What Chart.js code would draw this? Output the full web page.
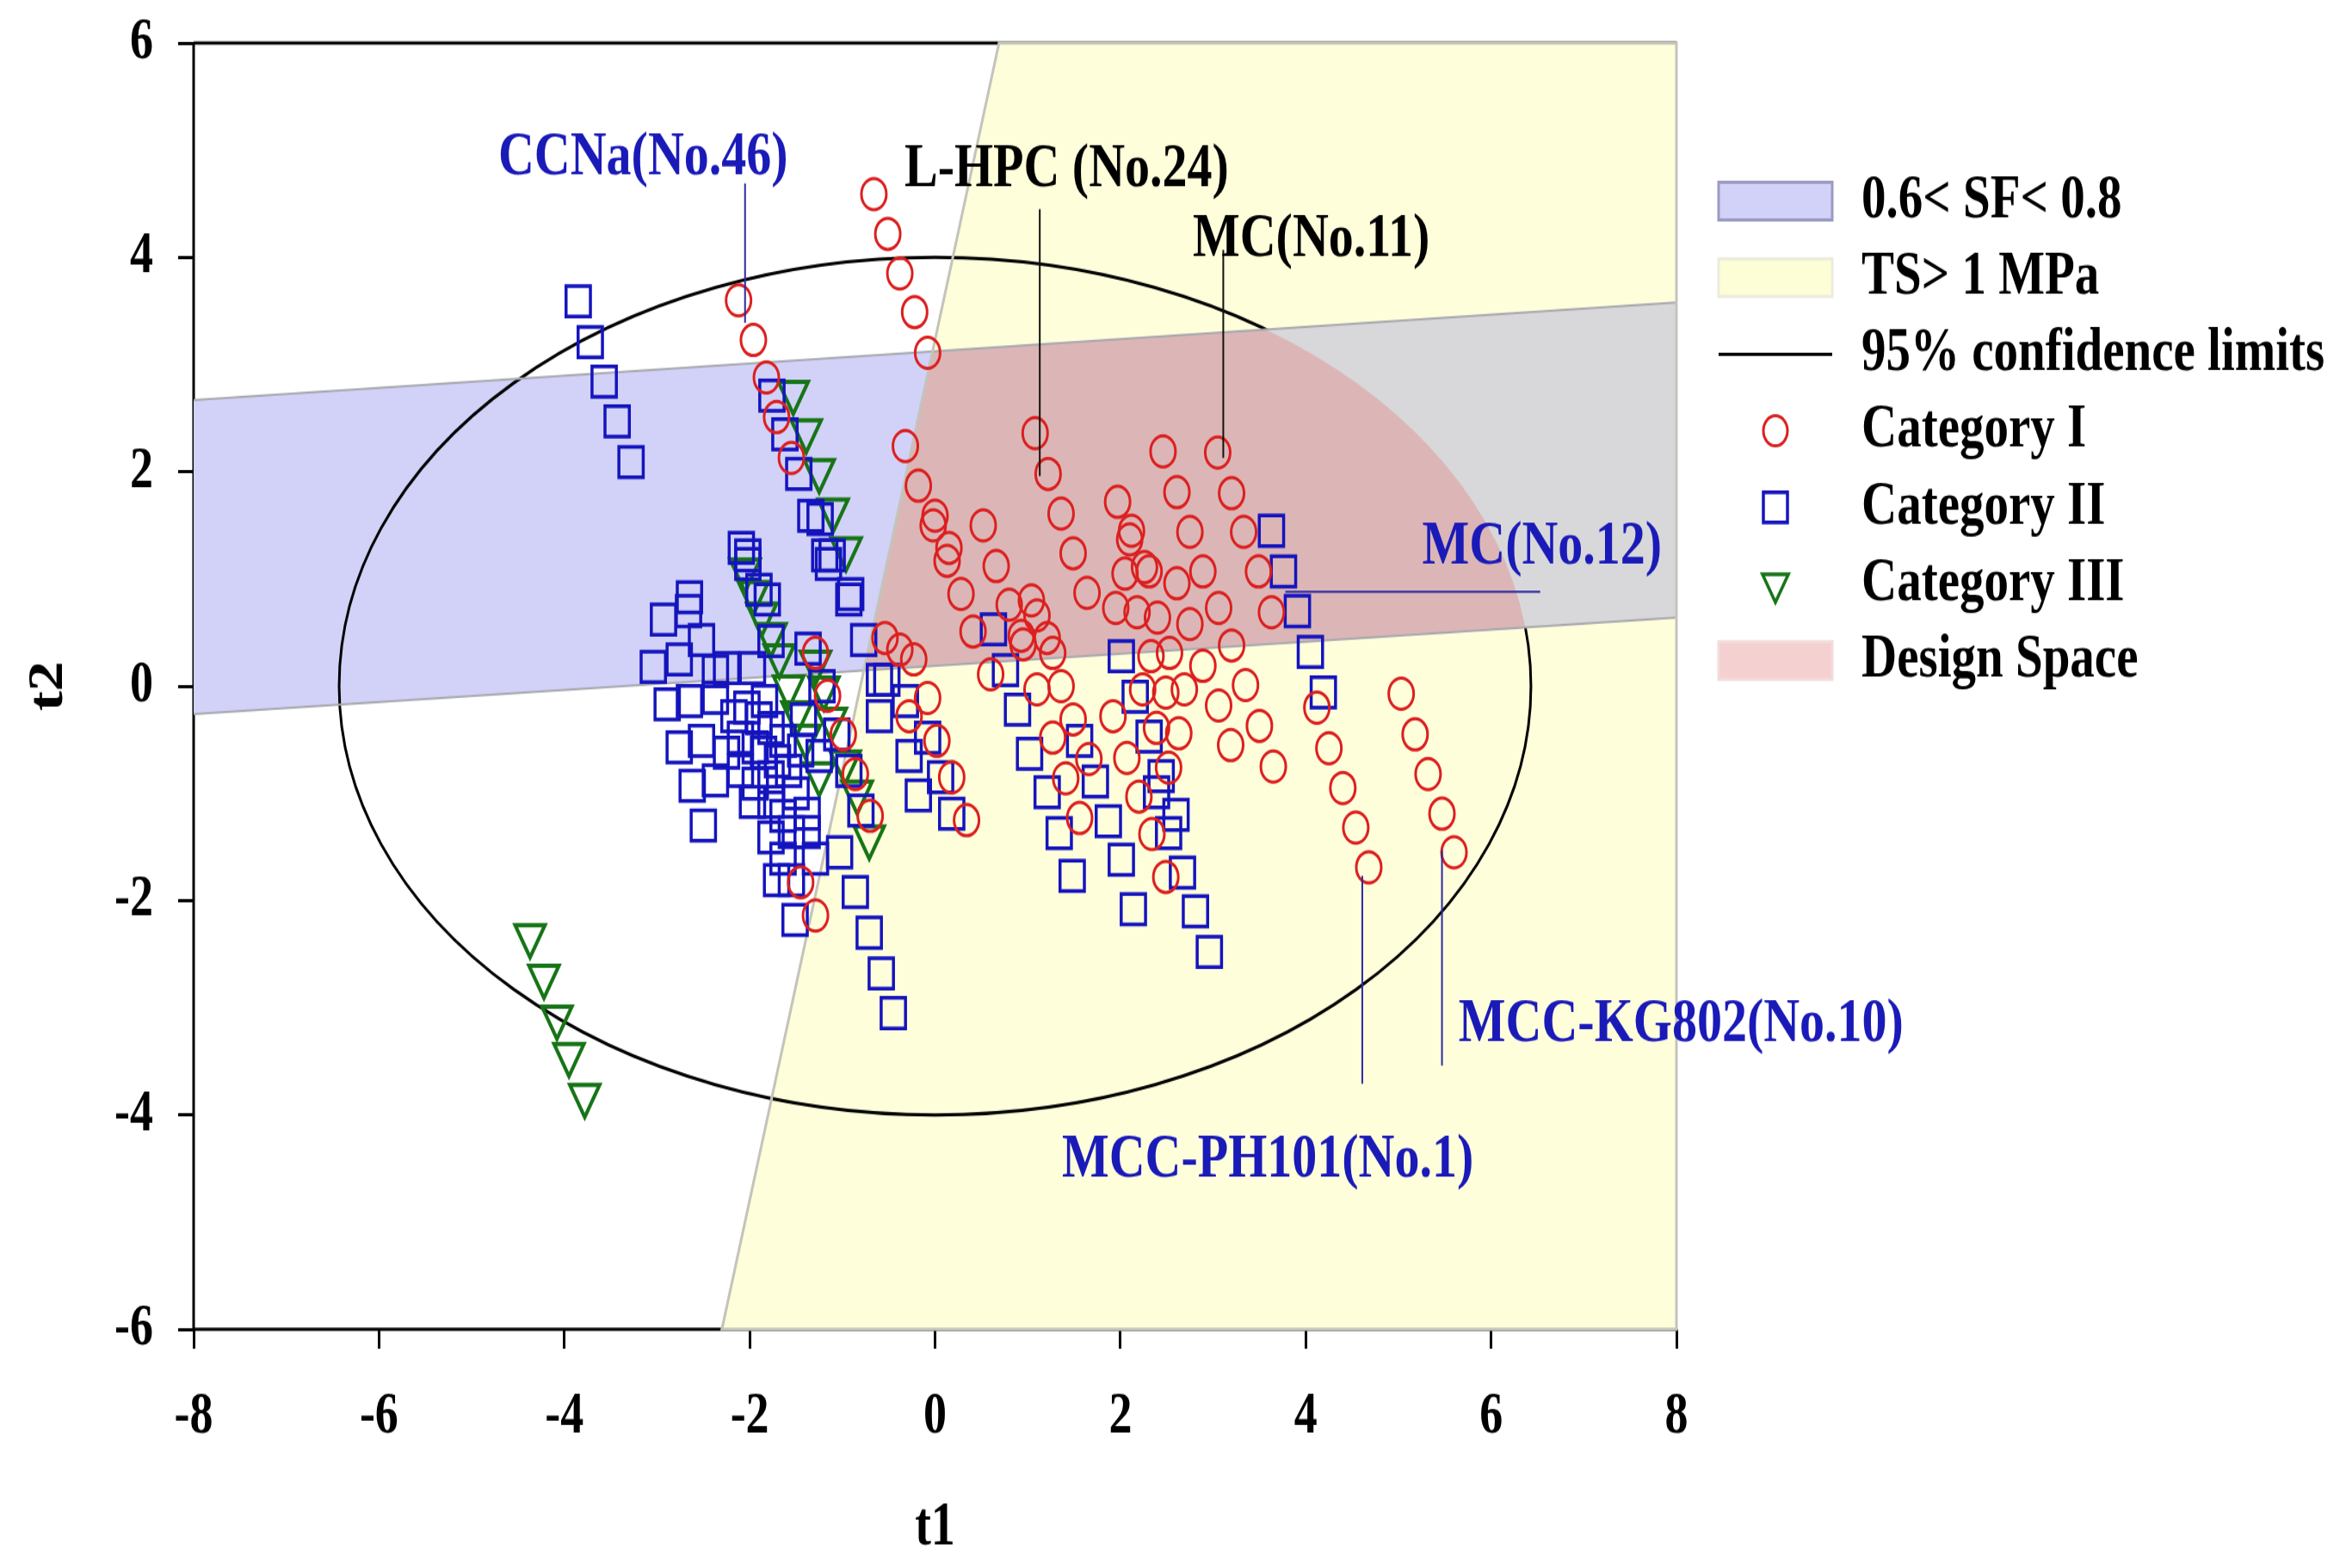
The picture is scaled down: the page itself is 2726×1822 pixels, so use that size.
<!DOCTYPE html>
<html>
<head>
<meta charset="utf-8">
<script src="https://cdn.jsdelivr.net/npm/chart.js@4.4.1/dist/chart.umd.min.js"></script>
<style>
  html, body { margin: 0; padding: 0; background: #fff; width: 2726px; height: 1822px; overflow: hidden; }
  canvas { display: block; }
</style>
</head>
<body>
<canvas id="c" width="2726" height="1458" style="width:2726px;height:1822px"></canvas>
<script>
// ---------------- data ----------------
const xTicks = [-8, -6, -4, -2, 0, 2, 4, 6, 8];
const yTicks = [-6, -4, -2, 0, 2, 4, 6];
const xTitle = 't1';
const yTitle = 't2';

const categoryI = [
  [-0.66,4.59],[-0.51,4.22],[-0.38,3.85],[-0.22,3.49],[-0.08,3.11],
  [-2.12,3.60],[-1.96,3.23],[-1.82,2.88],[-1.71,2.51],[-1.55,2.13],
  [-0.32,2.24],[-0.18,1.87],[0.00,1.59],[-0.02,1.50],[0.15,1.29],[0.13,1.17],[0.28,0.86],
  [0.52,1.50],[0.66,1.12],[0.41,0.51],[0.80,0.76],[0.93,0.47],[0.60,0.11],
  [-0.54,0.45],[-0.38,0.34],[-0.23,0.25],[-1.29,0.31],[-1.16,-0.09],[-0.99,-0.45],[-0.86,-0.82],[-0.70,-1.21],
  [-0.08,-0.11],[0.02,-0.51],[0.18,-0.85],[0.34,-1.25],[-0.28,-0.28],[-1.45,-1.83],[-1.29,-2.14],
  [1.08,2.36],[1.22,1.98],[1.36,1.61],[1.49,1.24],[1.97,1.72],[2.12,1.45],[2.10,1.37],[2.05,1.05],[2.26,1.11],
  [2.46,2.19],[2.61,1.81],[2.75,1.44],[2.89,1.07],[2.61,0.96],[3.05,2.18],[3.20,1.80],[3.33,1.44],[3.49,1.07],
  [1.64,0.87],[1.04,0.80],[1.10,0.66],[0.95,0.39],[1.21,0.45],[1.27,0.31],[1.10,-0.03],[1.36,0.00],
  [1.49,-0.31],[1.27,-0.48],[1.66,-0.68],[1.41,-0.86],[1.56,-1.23],[1.95,0.73],[2.18,0.69],[2.40,0.64],[2.31,1.07],
  [2.33,0.28],[2.53,0.31],[2.75,0.58],[3.06,0.73],[2.89,0.19],[3.20,0.38],[3.63,0.69],
  [2.24,-0.03],[2.49,-0.06],[2.69,-0.03],[1.92,-0.28],[2.39,-0.39],[2.63,-0.44],[2.07,-0.67],[2.52,-0.76],
  [2.20,-1.03],[2.34,-1.38],[2.49,-1.78],[3.06,-0.18],[3.35,0.01],[3.50,-0.37],[3.19,-0.55],[3.65,-0.75],
  [4.12,-0.20],[4.25,-0.58],[4.40,-0.95],[4.54,-1.32],[4.68,-1.69],
  [5.03,-0.07],[5.18,-0.45],[5.32,-0.82],[5.47,-1.19],[5.60,-1.55]
];

const categoryII = [
  [-3.85,3.59],[-3.72,3.21],[-3.57,2.84],[-3.43,2.47],[-3.28,2.09],
  [-1.76,2.71],[-1.62,2.35],[-1.47,1.98],[-1.34,1.59],[-1.24,1.56],[-1.19,1.22],[-1.11,1.22],
  [-2.09,1.29],[-2.02,1.22],[-2.65,0.83],[-0.91,0.86],[-2.02,1.14],[-1.15,1.14],[-0.93,0.81],
  [-2.66,0.70],[-2.93,0.62],[-2.52,0.43],[-2.76,0.25],[-3.04,0.18],[-1.90,0.90],[-1.81,0.81],
  [-2.37,0.14],[-2.25,0.17],[-1.97,0.17],[-1.77,0.42],[-1.37,0.35],[-0.77,0.43],[-0.60,0.06],[-0.52,0.06],
  [0.63,0.53],[0.76,0.15],[0.89,-0.22],[1.02,-0.63],[1.21,-0.99],[1.34,-1.37],[1.48,-1.77],
  [-2.89,-0.17],[-2.65,-0.14],[-2.37,-0.11],[-2.76,-0.57],[-2.52,-0.51],[-2.17,-0.28],[-2.03,-0.20],[-1.84,-0.14],
  [-2.10,-0.48],[-1.94,-0.57],[-1.77,-0.39],[-1.64,-0.51],[-2.62,-0.93],[-2.37,-0.88],[-2.10,-0.79],[-1.94,-0.91],
  [-1.77,-0.85],[-1.58,-0.79],[-2.50,-1.30],[-1.97,-1.08],[-1.77,-1.08],[-1.64,-1.21],[-1.38,-1.19],[-1.77,-1.41],
  [-1.55,-1.36],[-1.38,-1.36],[-1.64,-1.61],[-1.29,-1.61],[-1.03,-1.55],[-1.71,-1.81],[-1.55,-1.81],[-1.51,-2.18],
  [-0.86,-1.92],[-0.71,-2.30],[-0.58,-2.68],[-0.45,-3.05],[-1.22,0.00],[-1.06,-0.45],[-0.93,-0.79],[-0.80,-1.16],
  [-1.25,-0.65],[-1.42,-0.31],[-0.60,-0.28],[-0.32,-0.14],[-0.28,-0.65],[-0.18,-1.02],[0.18,-1.19],[-0.08,-0.48],[0.06,-0.85],
  [-1.85,-0.62],[-1.70,-0.70],[-1.50,-1.00],[-1.45,-0.60],[-1.90,-0.30],[-2.25,-0.62],
  [3.63,1.45],[3.76,1.07],[3.91,0.70],[4.05,0.32],[4.19,-0.06],
  [2.01,0.28],[2.16,-0.10],[2.31,-0.47],[2.44,-0.84],[2.39,-0.99],[2.60,-1.20],[2.52,-1.37],[2.67,-1.74],[2.81,-2.10],[2.96,-2.48],
  [1.56,-0.51],[1.73,-0.89],[1.87,-1.26],[2.01,-1.62],[2.14,-2.08]
];

const categoryIII = [
  [-1.53,2.74],[-1.39,2.38],[-1.25,2.01],[-1.10,1.64],[-0.96,1.28],
  [-2.05,1.08],[-1.96,0.87],[-1.87,0.67],[-1.77,0.48],[-1.68,0.28],[-1.58,-0.01],[-1.49,-0.25],[-1.40,-0.47],
  [-1.29,0.22],[-1.20,-0.02],[-1.12,-0.31],[-1.25,-0.82],[-0.97,-0.71],[-0.84,-0.99],[-0.71,-1.41],
  [-4.37,-2.33],[-4.22,-2.71],[-4.08,-3.09],[-3.95,-3.44],[-3.78,-3.82]
];

// regions (data coordinates)
const tsRegion = [[-2.30,-6],[0.69,6],[8,6],[8,-6]];
const nonTsRegion = [[-8,-6],[-2.30,-6],[0.69,6],[-8,6]];
const sfBand = [[-8,2.67],[8,3.58],[8,0.64],[-8,-0.26]];
const ellipseCenter = [0, 0];
const ellipseSemiAxes = [6.43, 4.0];

// annotations
const annoText = ['CCNa(No.46)','L-HPC (No.24)','MC(No.11)','MC(No.12)','MCC-KG802(No.10)','MCC-PH101(No.1)'];
const annoPos = [[-3.15,4.93],[1.42,4.82],[4.06,4.16],[6.55,1.29],[8.05,-3.16],[3.59,-4.42]];
const annoBlue = [true,false,false,true,true,true];
const leaderFrom = [[-2.05,4.69],[1.13,4.45],[3.11,4.07],[3.78,0.88],[5.47,-1.53],[4.61,-1.77]];
const leaderTo   = [[-2.05,3.39],[1.13,1.96],[3.11,2.13],[6.53,0.88],[5.47,-3.54],[4.61,-3.71]];

const legendLabels = ['0.6< SF< 0.8','TS> 1 MPa','95% confidence limits','Category I','Category II','Category III','Design Space'];

// ---------------- styles ----------------
const FONT = '"Liberation Serif", "Times New Roman", serif';
const C_RED = '#dc1f1f', C_BLUE = '#1414be', C_GREEN = '#167416';
const C_YELLOW = '#fffedb', C_LAV = '#d2d2f8', C_GREY = '#d8d8da', C_PINK = '#dcb6b6';

const regionsPlugin = {
  id: 'regions',
  beforeDatasetsDraw(chart) {
    const {ctx, chartArea: a, scales: {x, y}} = chart;
    const px = v => x.getPixelForValue(v), py = v => y.getPixelForValue(v);
    const poly = pts => { ctx.beginPath(); pts.forEach((p, i) => i ? ctx.lineTo(px(p[0]), py(p[1])) : ctx.moveTo(px(p[0]), py(p[1]))); ctx.closePath(); };
    const ell = () => { ctx.beginPath(); ctx.ellipse(px(ellipseCenter[0]), py(ellipseCenter[1]),
      Math.abs(px(ellipseCenter[0] + ellipseSemiAxes[0]) - px(ellipseCenter[0])),
      Math.abs(py(ellipseCenter[1] + ellipseSemiAxes[1]) - py(ellipseCenter[1])), 0, 0, Math.PI * 2); };
    ctx.save();
    // black frame
    ctx.strokeStyle = '#000'; ctx.lineWidth = 3;
    ctx.beginPath();
    ctx.moveTo(a.left, a.top); ctx.lineTo(a.right, a.top);
    ctx.moveTo(a.left, a.top); ctx.lineTo(a.left, a.bottom); ctx.lineTo(a.right, a.bottom);
    ctx.stroke();
    // yellow TS region
    poly(tsRegion); ctx.fillStyle = C_YELLOW; ctx.fill();
    // lavender SF band outside TS
    ctx.save(); poly(nonTsRegion); ctx.clip(); poly(sfBand); ctx.fillStyle = C_LAV; ctx.fill(); ctx.restore();
    // confidence ellipse
    ell(); ctx.strokeStyle = '#000'; ctx.lineWidth = 3; ctx.stroke();
    // overlap regions
    ctx.save(); poly(tsRegion); ctx.clip(); poly(sfBand); ctx.fillStyle = C_GREY; ctx.fill();
    ell(); ctx.clip(); poly(sfBand); ctx.fillStyle = C_PINK; ctx.fill(); ctx.restore();
    // band edges
    ctx.save(); ctx.beginPath(); ctx.rect(a.left, a.top, a.right - a.left, a.bottom - a.top); ctx.clip();
    ctx.strokeStyle = '#a8a8b0'; ctx.lineWidth = 2;
    ctx.beginPath(); ctx.moveTo(px(sfBand[0][0]), py(sfBand[0][1])); ctx.lineTo(px(sfBand[1][0]), py(sfBand[1][1]));
    ctx.moveTo(px(sfBand[3][0]), py(sfBand[3][1])); ctx.lineTo(px(sfBand[2][0]), py(sfBand[2][1])); ctx.stroke();
    ctx.restore();
    // TS region border
    poly(tsRegion); ctx.strokeStyle = '#c4c4bc'; ctx.lineWidth = 3; ctx.stroke();
    ctx.restore();
  },
  afterDatasetsDraw(chart) {
    const {ctx, scales: {x, y}} = chart;
    const px = v => x.getPixelForValue(v), py = v => y.getPixelForValue(v);
    ctx.save();
    leaderFrom.forEach((f, i) => {
      const t = leaderTo[i];
      ctx.beginPath(); ctx.moveTo(px(f[0]), py(f[1])); ctx.lineTo(px(t[0]), py(t[1]));
      ctx.strokeStyle = annoBlue[i] ? '#2a2aa0' : '#111'; ctx.lineWidth = 2; ctx.stroke();
    });
    ctx.font = 'bold 58px ' + FONT; ctx.textAlign = 'center'; ctx.textBaseline = 'middle';
    annoText.forEach((t, i) => {
      ctx.fillStyle = annoBlue[i] ? '#1a1ab8' : '#000';
      ctx.fillText(t, px(annoPos[i][0]), py(annoPos[i][1]));
    });
    ctx.restore();
  },
  afterDraw(chart) {
    const ctx = chart.ctx;
    const bx0 = 1997, bx1 = 2129, tx = 2163, y0 = 187, dy = 71.2, bh = 35, mx = (bx0 + bx1) / 2;
    ctx.save();
    ctx.font = 'bold 57px ' + FONT; ctx.textAlign = 'left'; ctx.textBaseline = 'middle';
    legendLabels.forEach((lab, i) => {
      const yy = y0 + i * dy;
      if (i === 0 || i === 1 || i === 6) {
        const fills = {0: C_LAV, 1: '#fdfdd6', 6: '#f5d0d0'};
        const strokes = {0: '#9a9ac4', 1: '#ececdc', 6: '#f2dcdc'};
        ctx.fillStyle = fills[i]; ctx.fillRect(bx0, yy - bh / 2, bx1 - bx0, bh);
        ctx.strokeStyle = strokes[i]; ctx.lineWidth = 3; ctx.strokeRect(bx0, yy - bh / 2, bx1 - bx0, bh);
      } else if (i === 2) {
        ctx.beginPath(); ctx.moveTo(bx0, yy); ctx.lineTo(bx1, yy); ctx.strokeStyle = '#000'; ctx.lineWidth = 3; ctx.stroke();
      } else if (i === 3) {
        ctx.beginPath(); ctx.arc(mx, yy, 14, 0, Math.PI * 2); ctx.strokeStyle = C_RED; ctx.lineWidth = 3; ctx.stroke();
      } else if (i === 4) {
        ctx.strokeStyle = C_BLUE; ctx.lineWidth = 3.5; ctx.strokeRect(mx - 14, yy - 14, 28, 28);
      } else if (i === 5) {
        ctx.beginPath(); ctx.moveTo(mx - 15, yy - 9); ctx.lineTo(mx + 15, yy - 9); ctx.lineTo(mx, yy + 17); ctx.closePath();
        ctx.strokeStyle = C_GREEN; ctx.lineWidth = 3.5; ctx.stroke();
      }
      ctx.fillStyle = '#000'; ctx.fillText(lab, tx, yy);
    });
    ctx.restore();
  }
};

const toPts = arr => arr.map(p => ({x: p[0], y: p[1]}));

new Chart(document.getElementById('c'), {
  type: 'scatter',
  data: {
    datasets: [
      { label: 'Category I', data: toPts(categoryI), pointStyle: 'circle', pointRadius: 14.5, borderColor: C_RED, backgroundColor: 'rgba(0,0,0,0)', borderWidth: 3 },
      { label: 'Category II', data: toPts(categoryII), pointStyle: 'rect', pointRadius: 20, borderColor: C_BLUE, backgroundColor: 'rgba(0,0,0,0)', borderWidth: 3.5 },
      { label: 'Category III', data: toPts(categoryIII), pointStyle: 'triangle', rotation: 180, pointRotation: 180, pointRadius: 20, borderColor: C_GREEN, backgroundColor: 'rgba(0,0,0,0)', borderWidth: 4 }
    ]
  },
  options: {
    responsive: false, animation: false, devicePixelRatio: 1,
    layout: { autoPadding: false, padding: { top: 40, right: 778, left: 0, bottom: 0 } },
    plugins: { legend: { display: false }, tooltip: { enabled: false } },
    scales: {
      x: {
        type: 'linear', min: -8, max: 8,
        afterBuildTicks: s => { s.ticks = xTicks.map(v => ({value: v})); },
        afterFit: s => { s.height = 222; s.paddingLeft = 0; s.paddingRight = 0; },
        ticks: { font: { family: FONT, size: 54, weight: 'bold' }, color: '#000', padding: 32, maxRotation: 0, autoSkip: false },
        grid: { drawOnChartArea: false, drawTicks: true, tickLength: 18, color: '#000', lineWidth: 3 },
        border: { display: false },
        title: { display: true, text: xTitle, color: '#000', font: { family: FONT, size: 56, weight: 'bold' }, padding: { top: 0, bottom: 3 } }
      },
      y: {
        type: 'linear', min: -6, max: 6,
        afterBuildTicks: s => { s.ticks = yTicks.map(v => ({value: v})); },
        afterFit: s => { s.width = 225; s.paddingTop = 0; s.paddingBottom = 0; },
        ticks: { font: { family: FONT, size: 54, weight: 'bold' }, color: '#000', padding: 29, autoSkip: false },
        grid: { drawOnChartArea: false, drawTicks: true, tickLength: 18, color: '#000', lineWidth: 3 },
        border: { display: false },
        title: { display: true, text: yTitle, color: '#000', font: { family: FONT, size: 56, weight: 'bold' }, padding: { top: 24, bottom: 0 } }
      }
    }
  },
  plugins: [regionsPlugin]
});
</script>
</body>
</html>
